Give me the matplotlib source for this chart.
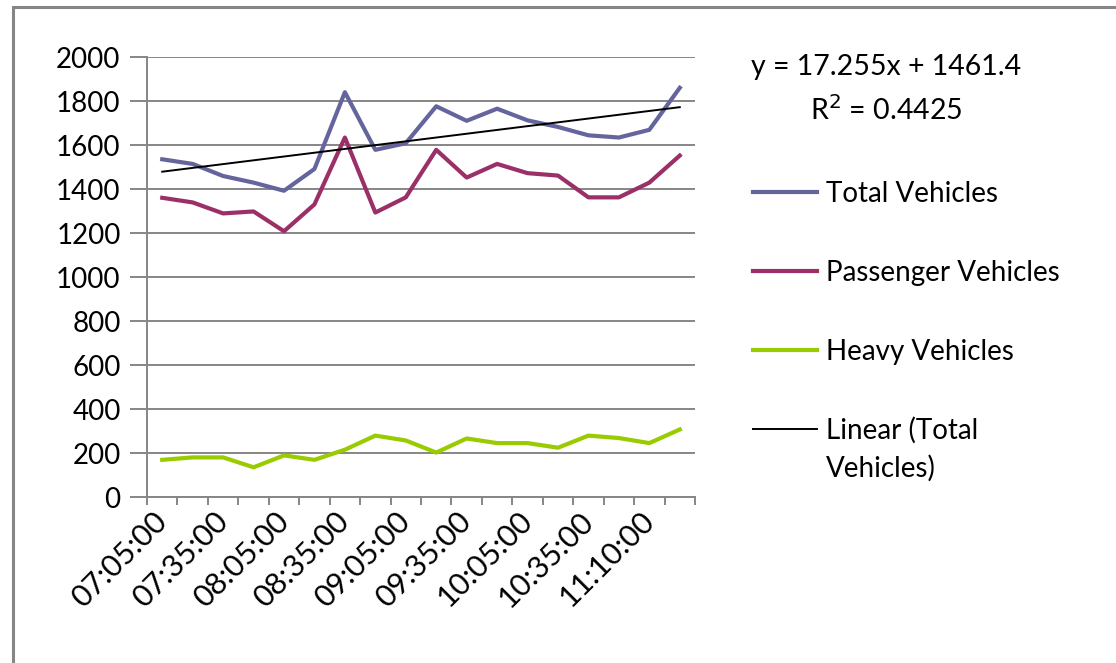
import numpy as np
import matplotlib
matplotlib.use('Agg')
import matplotlib.pyplot as plt
from matplotlib.patches import Rectangle

# 18 survey intervals, only every other one is labelled on the axis
time_labels = ['07:05:00', '07:20:00', '07:35:00', '07:50:00', '08:05:00', '08:20:00',
               '08:35:00', '08:50:00', '09:05:00', '09:20:00', '09:35:00', '09:50:00',
               '10:05:00', '10:20:00', '10:35:00', '10:50:00', '11:10:00', '11:25:00']
total_vehicles = [1535, 1514, 1459, 1429, 1392, 1491, 1840, 1578, 1608,
                  1776, 1710, 1765, 1712, 1682, 1644, 1634, 1669, 1860]
passenger_vehicles = [1360, 1339, 1289, 1298, 1208, 1330, 1634, 1293, 1362,
                      1578, 1452, 1514, 1472, 1461, 1362, 1362, 1429, 1552]
heavy_vehicles = [169, 180, 180, 135, 189, 169, 215, 279, 257,
                  202, 266, 245, 245, 224, 279, 268, 245, 307]
trend_slope = 17.255
trend_intercept = 1461.4
trend_r2 = 0.4425

plt.rcParams['font.family'] = ['Lato', 'DejaVu Sans']
fs = 20
W, H = 1116, 663

fig = plt.figure(figsize=(W/100, H/100), dpi=100)
ax = fig.add_axes([147/W, 1 - 497/H, (695-147)/W, (497-57)/H])

x = np.arange(1, len(time_labels) + 1)
trend = trend_slope * x + trend_intercept

ax.plot(x, total_vehicles, color='#65659E', lw=3.0, label='Total Vehicles', zorder=3)
ax.plot(x, passenger_vehicles, color='#9B3068', lw=3.0, label='Passenger Vehicles', zorder=3)
ax.plot(x, heavy_vehicles, color='#99CC00', lw=3.0, label='Heavy Vehicles', zorder=3)
ax.plot(x, trend, color='black', lw=1.4, label='Linear (Total', zorder=4)

ax.set_xlim(0.5, len(x) + 0.5)
ax.set_ylim(0, 2000)
ax.set_yticks(range(0, 2001, 200))
ax.yaxis.grid(True, color='#868686', lw=1.4)
ax.set_axisbelow(True)

ax.set_xticks(x[::2])
ax.set_xticklabels(time_labels[::2], rotation=45, ha='right', va='center',
                   rotation_mode='anchor')
ax.set_xticks(np.arange(0.5, len(x) + 1), minor=True)
ax.tick_params(axis='x', which='major', length=0, pad=14, labelsize=22)
ax.tick_params(axis='x', which='minor', length=6, width=1.4, color='#868686')
ax.tick_params(axis='y', length=12, width=1.4, color='#868686', labelsize=fs, pad=7)

for side in ['top', 'right']:
    ax.spines[side].set_visible(False)
for side in ['left', 'bottom']:
    ax.spines[side].set_color('#868686')
    ax.spines[side].set_linewidth(1.4)

fig.text(886/W, 1 - 67/H, 'y = 17.255x + 1461.4', fontsize=20.5, va='center', ha='center')
fig.text(886/W, 1 - 110/H, 'R$^2$ = %.4f' % trend_r2, fontsize=20.5, va='center', ha='center')

leg = fig.legend(loc='upper left', bbox_to_anchor=(753/W, 1 - 181/H), frameon=False,
                 fontsize=fs, handlelength=2.3, handletextpad=0.32, labelspacing=1.9,
                 borderpad=0, borderaxespad=0)

# second line of the trendline legend label
fig.canvas.draw()
bb = leg.get_texts()[-1].get_window_extent()
fig.text(bb.x0/W, (bb.y0 - 38 + bb.height/2)/H, 'Vehicles)', fontsize=fs,
         va='center', ha='left')

# chart border (cropped at right and bottom)
fig.patches.append(Rectangle((13/W, -0.05), 1.2, 1 - 7/H + 0.05, transform=fig.transFigure,
                             fill=False, edgecolor='#868686', lw=2.2))

fig.savefig('out.png', dpi=100)
